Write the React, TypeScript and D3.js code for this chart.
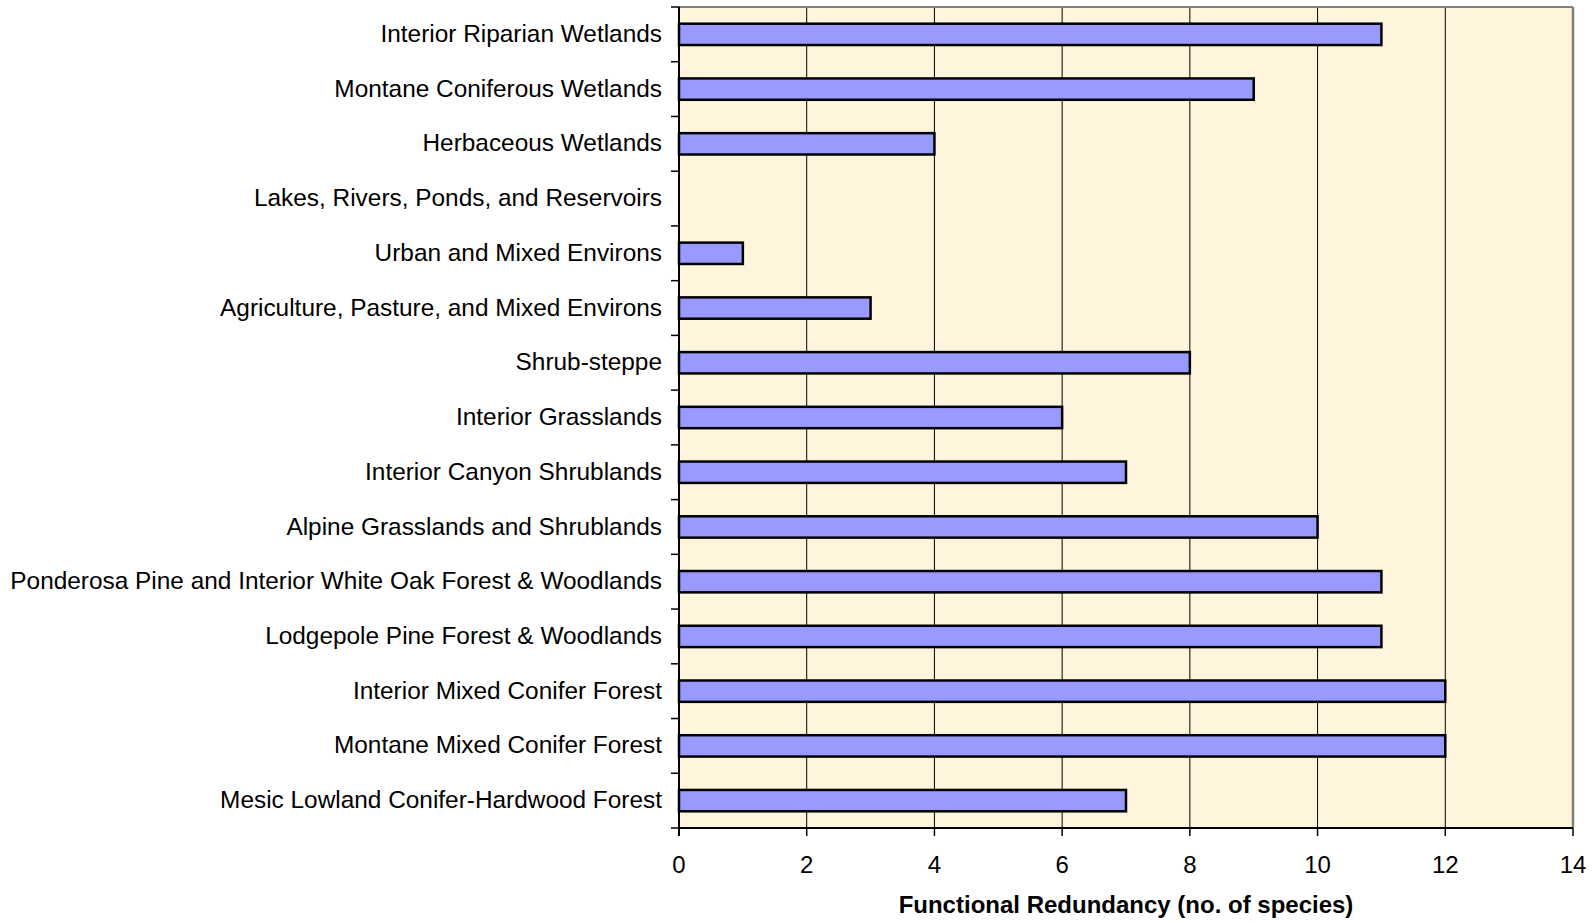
import React from "react";
import * as d3 from "d3";

const categories = [
  "Interior Riparian Wetlands",
  "Montane Coniferous Wetlands",
  "Herbaceous Wetlands",
  "Lakes, Rivers, Ponds, and Reservoirs",
  "Urban and Mixed Environs",
  "Agriculture, Pasture, and Mixed Environs",
  "Shrub-steppe",
  "Interior Grasslands",
  "Interior Canyon Shrublands",
  "Alpine Grasslands and Shrublands",
  "Ponderosa Pine and Interior White Oak Forest & Woodlands",
  "Lodgepole Pine Forest & Woodlands",
  "Interior Mixed Conifer Forest",
  "Montane Mixed Conifer Forest",
  "Mesic Lowland Conifer-Hardwood Forest",
];
const values = [11, 9, 4, 0, 1, 3, 8, 6, 7, 10, 11, 11, 12, 12, 7];
const xTicks = [0, 2, 4, 6, 8, 10, 12, 14];
const xTitle = "Functional Redundancy (no. of species)";

const W = 1595;
const H = 922;
const left = 679;
const right = 1573;
const top = 7;
const bottom = 828;
const font = "'Liberation Sans', Arial, sans-serif";

export default function App() {
  const x = d3.scaleLinear().domain([0, 14]).range([left, right]);
  const y = d3.scaleBand<string>().domain(categories).range([top, bottom]).padding(0);
  const bw = y.bandwidth();
  const barH = bw * 0.39;
  const boundaries = d3.range(categories.length + 1).map((i) => top + i * bw);

  return (
    <svg width={W} height={H} style={{ position: "absolute", left: 0, top: 0 }} fontFamily={font}>
      <rect x={left} y={top} width={right - left} height={bottom - top} fill="#FEF5DC" />
      {xTicks.slice(1, -1).map((t) => (
        <line key={"g" + t} x1={x(t)} x2={x(t)} y1={top} y2={bottom} stroke="#000" strokeWidth={1} />
      ))}
      <line x1={left} x2={right} y1={top} y2={top} stroke="#808080" strokeWidth={2} />
      <line x1={right} x2={right} y1={top} y2={bottom} stroke="#808080" strokeWidth={2.5} />
      {categories.map((c, i) => {
        const v = values[i];
        if (v <= 0) return null;
        const yc = (y(c) as number) + bw / 2;
        return (
          <rect
            key={c}
            x={x(0)}
            y={yc - barH / 2}
            width={x(v) - x(0)}
            height={barH}
            fill="#9999FF"
            stroke="#000"
            strokeWidth={2.5}
          />
        );
      })}
      <line x1={left} x2={left} y1={top} y2={bottom + 8} stroke="#000" strokeWidth={2} />
      <line x1={left - 1} x2={right} y1={bottom} y2={bottom} stroke="#000" strokeWidth={2} />
      {boundaries.map((b, i) => (
        <line key={"yt" + i} x1={left - 8} x2={left} y1={b} y2={b} stroke="#000" strokeWidth={1.5} />
      ))}
      {xTicks.map((t) => (
        <line key={"xt" + t} x1={x(t)} x2={x(t)} y1={bottom} y2={bottom + 8} stroke="#000" strokeWidth={1.5} />
      ))}
      {xTicks.map((t) => (
        <text key={"xl" + t} x={x(t)} y={873} textAnchor="middle" fontSize={24} fill="#000">
          {t}
        </text>
      ))}
      {categories.map((c) => (
        <text
          key={"yl" + c}
          x={662}
          y={(y(c) as number) + bw / 2 - 1}
          dy="0.35em"
          textAnchor="end"
          fontSize={24.4}
          fill="#000"
        >
          {c}
        </text>
      ))}
      <text x={(left + right) / 2} y={913} textAnchor="middle" fontSize={24} fontWeight="bold" fill="#000">
        {xTitle}
      </text>
    </svg>
  );
}
